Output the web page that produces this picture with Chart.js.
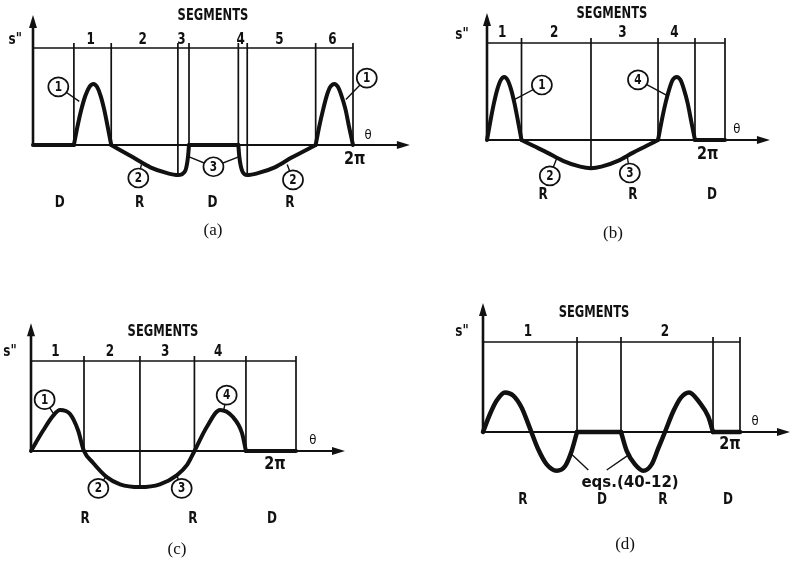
<!DOCTYPE html>
<html lang="en">
  <head>
    <meta charset="UTF-8" />
    <title>Cam acceleration segments</title>
    <style>
      body {
        margin: 0;
        background: #fff;
        width: 793px;
        height: 561px;
        position: relative;
        overflow: hidden;
      }
      canvas {
        position: absolute;
      }
    </style>
  </head>
  <body>
    <canvas id="chartA" width="420" height="250" style="left:0;top:0"></canvas>
    <canvas id="chartB" width="373" height="250" style="left:420px;top:0"></canvas>
    <canvas id="chartC" width="400" height="296" style="left:0;top:265px"></canvas>
    <canvas id="chartD" width="393" height="296" style="left:400px;top:265px"></canvas>
    <script src="https://cdn.jsdelivr.net/npm/chart.js"></script>
    <script>
      // theta in degrees (2pi = 360), s'' scaled so the segment bar = 100
      // kinks = thetas where the curve has a corner (pieces are split there)
      // (a)
      const aTheta = [0, 46, 50, 54.5, 59, 63.5, 68, 72, 76, 80, 84, 88, 113, 132, 151, 163, 171, 174.4, 175.5,
        231, 232.1, 235.5, 241, 253, 272, 291, 318, 322, 326.5, 330.5, 334.5, 339, 343, 347, 351.5, 355.5, 360];
      const aAccel = [0, 0, 19, 37, 51, 60, 63, 60, 51, 37, 19, 0, -13, -23, -29, -31, -27, -12, 0,
        0, -12, -27, -31, -29, -23, -13, 0, 19, 37, 51, 60, 63, 60, 51, 37, 19, 0];
      const aKinks = [46, 88, 175.5, 231, 318];
      const aBounds = [0, 46, 88, 163, 175.5, 231, 241, 318, 360];
      const aSegNums = ["", "1", "2", "3", "", "4", "5", "6"];
      const aZones = ["D", "R", "D", "R"];

      // (b)
      const bTheta = [0, 5, 10.5, 15.5, 21, 26, 31, 36.5, 41.5, 47, 52.2, 70, 91, 115, 141, 157.3,
        173, 198, 221, 241.5, 258.7, 264, 270, 275.5, 281, 287, 292.5, 298, 303.5, 309, 314.6, 360];
      const bAccel = [0, 19, 38, 52, 62, 65, 62, 52, 38, 19, 0, -6, -13, -21.5, -27.5, -29,
        -27.5, -21.5, -13, -6, 0, 19, 38, 52, 62, 65, 62, 52, 38, 19, 0, 0];
      const bKinks = [52.2, 258.7, 314.6];
      const bBounds = [0, 52.2, 157.3, 258.7, 314.6, 360];
      const bSegNums = ["1", "2", "3", "4", ""];
      const bZones = ["R", "R", "D"];

      // (c)
      const cTheta = [0, 16.7, 29.9, 39.4, 53, 63.9, 72, 84.2, 103, 121, 148, 175, 198, 212, 222,
        239, 256.8, 274, 286.6, 292, 360];
      const cAccel = [0, 23, 39, 45.5, 41, 23, 0, -13, -29, -37, -40, -37, -27, -15.5, 0,
        27, 45.5, 38, 20, 0, 0];
      const cKinks = [292];
      const cBounds = [0, 72, 148, 222, 292, 360];
      const cSegNums = ["1", "2", "3", "4", ""];
      const cZones = ["R", "R", "D"];

      // (d)
      const dTheta = [0, 9.8, 19.2, 30.8, 42.4, 54.2, 65.8, 77.5, 89.2, 103.2, 114.9, 124.2, 131.7,
        193.3, 201.3, 212.9, 224.5, 236.3, 245.6, 254.9, 266.6, 277, 288.6, 304, 315.6, 322.2, 360];
      const dAccel = [0, 20, 35, 44, 40.5, 27, 4, -19.5, -36, -43, -38, -21, 0,
        0, -21, -36, -43, -36, -18, 0, 23, 38, 44, 32, 17, 0, 0];
      const dKinks = [131.7, 193.3, 322.2];
      const dBounds = [0, 131.7, 193.3, 322.2, 360];
      const dSegNums = ["1", "", "2", ""];
      const dZones = ["R", "D", "R", "D"];

      const INK = "#111";
      const SANS = '"DejaVu Sans", sans-serif';

      // annotation placement, in data units (deg, s'')
      const panels = [
        {
          id: "chartA", theta: aTheta, accel: aAccel, kinks: aKinks, bounds: aBounds, nums: aSegNums, zones: aZones,
          pad: { left: 33, right: 67, top: 48, bottom: 105 },
          yTip: 134, xTip: 424, title: [202.5, 133], numY: 108, sLabel: [-20, 108],
          thetaLabel: [377, 10], twoPi: [362, -15.5], zoneX: [30, 120, 202, 289], zoneY: -60,
          circles: [
            { n: "1", x: 28.5, y: 60, lead: [[52, 45]] },
            { n: "1", x: 375.5, y: 69, lead: [[352, 47]] },
            { n: "2", x: 118.5, y: -34, lead: [[122, -20]] },
            { n: "3", x: 203, y: -22.4, lead: [[175, -12], [232, -12]] },
            { n: "2", x: 292.5, y: -36, lead: [[286, -20]] },
          ],
          notes: [], caption: ["(a)", 202.5, -88], curveWidth: 4,
        },
        {
          id: "chartB", theta: bTheta, accel: bAccel, kinks: bKinks, bounds: bBounds, nums: bSegNums, zones: bZones,
          pad: { left: 67, right: 68, top: 43, bottom: 110 },
          yTip: 131, xTip: 428, title: [189, 130], numY: 110, sLabel: [-37.8, 108],
          thetaLabel: [378, 10.3], twoPi: [334, -15.5], zoneX: [84.7, 220.8, 340.3], zoneY: -56.5,
          circles: [
            { n: "1", x: 83, y: 56.7, lead: [[42, 42]] },
            { n: "4", x: 228.4, y: 62, lead: [[272, 46]] },
            { n: "2", x: 95, y: -37, lead: [[106, -18]] },
            { n: "3", x: 216, y: -34, lead: [[212, -16]] },
          ],
          notes: [], caption: ["(b)", 190.6, -96], curveWidth: 4,
        },
        {
          id: "chartC", theta: cTheta, accel: cAccel, kinks: cKinks, bounds: cBounds, nums: cSegNums, zones: cZones,
          pad: { left: 31, right: 104, top: 96, bottom: 110 },
          yTip: 142, xTip: 426.6, title: [179.3, 132], numY: 110, sLabel: [-28.5, 110],
          thetaLabel: [383, 12], twoPi: [331.5, -15.5], zoneX: [73.4, 220, 327.4], zoneY: -75.5,
          circles: [
            { n: "1", x: 18.5, y: 57, lead: [[30, 42]] },
            { n: "4", x: 265.8, y: 62, lead: [[262, 46]] },
            { n: "2", x: 91.5, y: -41.5, lead: [[102, -28]] },
            { n: "3", x: 204.7, y: -41.5, lead: [[198, -27]] },
          ],
          notes: [], caption: ["(c)", 198.3, -110], curveWidth: 4,
        },
        {
          id: "chartD", theta: dTheta, accel: dAccel, kinks: dKinks, bounds: dBounds, nums: dSegNums, zones: dZones,
          pad: { left: 83, right: 53, top: 77, bottom: 129 },
          yTip: 143.3, xTip: 430, title: [155.5, 132], numY: 111, sLabel: [-29.4, 111],
          thetaLabel: [381, 11], twoPi: [346, -14.4], zoneX: [56, 166.7, 252, 343], zoneY: -75.5,
          circles: [],
          notes: [
            { text: "eqs.(40-12)", x: 206, y: -56.7,
              leads: [[123, -24, 147.5, -42.2], [203, -26, 173.3, -42.2]] },
          ],
          caption: ["(d)", 199, -125.5], curveWidth: 4.5,
        },
      ];

      // split the curve at its corners so the spline keeps them sharp
      function pieces(theta, accel, kinks) {
        const out = [];
        let cur = [];
        theta.forEach((t, i) => {
          cur.push({ x: t, y: accel[i] });
          if (kinks.includes(t) && cur.length > 1) {
            out.push(cur);
            cur = [{ x: t, y: accel[i] }];
          }
        });
        if (cur.length > 1) out.push(cur);
        return out;
      }

      function accelAt(xs, ys, t) {
        for (let i = 1; i < xs.length; i++) {
          if (t <= xs[i]) {
            const f = (t - xs[i - 1]) / (xs[i] - xs[i - 1] || 1);
            return ys[i - 1] + f * (ys[i] - ys[i - 1]);
          }
        }
        return 0;
      }

      function text(ctx, str, x, y, font, squeeze) {
        ctx.save();
        ctx.translate(x, y);
        ctx.scale(squeeze || 1, 1);
        ctx.font = font;
        ctx.textAlign = "center";
        ctx.textBaseline = "middle";
        ctx.fillStyle = INK;
        ctx.fillText(str, 0, 0);
        ctx.restore();
      }

      function seg(ctx, x1, y1, x2, y2, w) {
        ctx.beginPath();
        ctx.lineWidth = w;
        ctx.moveTo(x1, y1);
        ctx.lineTo(x2, y2);
        ctx.stroke();
      }

      function framePlugin(p) {
        return {
          id: "frame",
          beforeDatasetsDraw(chart) {
            const ctx = chart.ctx;
            const X = (v) => chart.scales.x.getPixelForValue(v);
            const Y = (v) => chart.scales.y.getPixelForValue(v);
            ctx.save();
            ctx.strokeStyle = INK;
            ctx.fillStyle = INK;
            ctx.lineCap = "butt";
            // segment bar and dividers
            seg(ctx, X(0), Y(100), X(360), Y(100), 1.7);
            p.bounds.slice(1).forEach((b) => {
              const low = Math.min(0, accelAt(p.theta, p.accel, b));
              seg(ctx, X(b), Y(100) - 5, X(b), Y(low), 1.7);
            });
            // theta axis
            const x0 = X(0), y0 = Y(0), xt = X(p.xTip), yt = Y(p.yTip);
            seg(ctx, x0, y0, xt - 8, y0, 2.2);
            ctx.beginPath();
            ctx.moveTo(xt, y0);
            ctx.lineTo(xt - 13, y0 - 4);
            ctx.lineTo(xt - 13, y0 + 4);
            ctx.closePath();
            ctx.fill();
            // s'' axis
            seg(ctx, x0, y0 + 1, x0, yt + 8, 2.6);
            ctx.beginPath();
            ctx.moveTo(x0, yt);
            ctx.lineTo(x0 - 4, yt + 13);
            ctx.lineTo(x0 + 4, yt + 13);
            ctx.closePath();
            ctx.fill();
            ctx.restore();
          },
          afterDatasetsDraw(chart) {
            const ctx = chart.ctx;
            const X = (v) => chart.scales.x.getPixelForValue(v);
            const Y = (v) => chart.scales.y.getPixelForValue(v);
            const bold = "bold 16px " + SANS;
            ctx.save();
            ctx.strokeStyle = INK;
            text(ctx, "SEGMENTS", X(p.title[0]), Y(p.title[1]), bold, 0.72);
            for (let i = 0; i < p.nums.length; i++) {
              if (!p.nums[i]) continue;
              const mid = (p.bounds[i] + p.bounds[i + 1]) / 2;
              text(ctx, p.nums[i], X(mid) - 2, Y(p.numY), bold, 0.75);
            }
            text(ctx, 's"', X(p.sLabel[0]), Y(p.sLabel[1]), "bold 15px " + SANS, 0.8);
            text(ctx, "\u03b8", X(p.thetaLabel[0]), Y(p.thetaLabel[1]), "13px " + SANS, 0.9);
            text(ctx, "2\u03c0", X(p.twoPi[0]), Y(p.twoPi[1]), "bold 17px " + SANS, 0.85);
            p.zones.forEach((z, i) => text(ctx, z, X(p.zoneX[i]), Y(p.zoneY), bold, 0.75));
            p.circles.forEach((c) => {
              const cx = X(c.x), cy = Y(c.y);
              c.lead.forEach((l) => seg(ctx, cx, cy, X(l[0]), Y(l[1]), 1.4));
              ctx.beginPath();
              ctx.ellipse(cx, cy, 10, 9.5, 0, 0, Math.PI * 2);
              ctx.fillStyle = "#fff";
              ctx.fill();
              ctx.lineWidth = 1.7;
              ctx.stroke();
              text(ctx, c.n, cx, cy + 0.5, "bold 14px " + SANS, 0.75);
            });
            p.notes.forEach((n) => {
              n.leads.forEach((l) => seg(ctx, X(l[0]), Y(l[1]), X(l[2]), Y(l[3]), 1.4));
              text(ctx, n.text, X(n.x), Y(n.y), "bold 15px " + SANS, 1.0);
            });
            text(ctx, p.caption[0], X(p.caption[1]), Y(p.caption[2]), '17px "Liberation Serif", serif', 1);
            ctx.restore();
          },
        };
      }

      panels.forEach((p) => {
        const datasets = pieces(p.theta, p.accel, p.kinks).map((pts) => ({
          data: pts,
          borderColor: INK,
          borderWidth: p.curveWidth,
          borderJoinStyle: "round",
          borderCapStyle: "round",
          pointRadius: 0,
          cubicInterpolationMode: "monotone",
          capBezierPoints: false,
          clip: false,
          fill: false,
        }));
        new Chart(document.getElementById(p.id), {
          type: "line",
          data: { datasets },
          options: {
            responsive: false,
            animation: false,
            devicePixelRatio: 1,
            events: [],
            layout: { padding: p.pad },
            plugins: { legend: { display: false }, tooltip: { enabled: false } },
            scales: {
              x: { type: "linear", min: 0, max: 360, display: false },
              y: { type: "linear", min: 0, max: 100, display: false },
            },
          },
          plugins: [framePlugin(p)],
        });
      });
    </script>
  </body>
</html>
